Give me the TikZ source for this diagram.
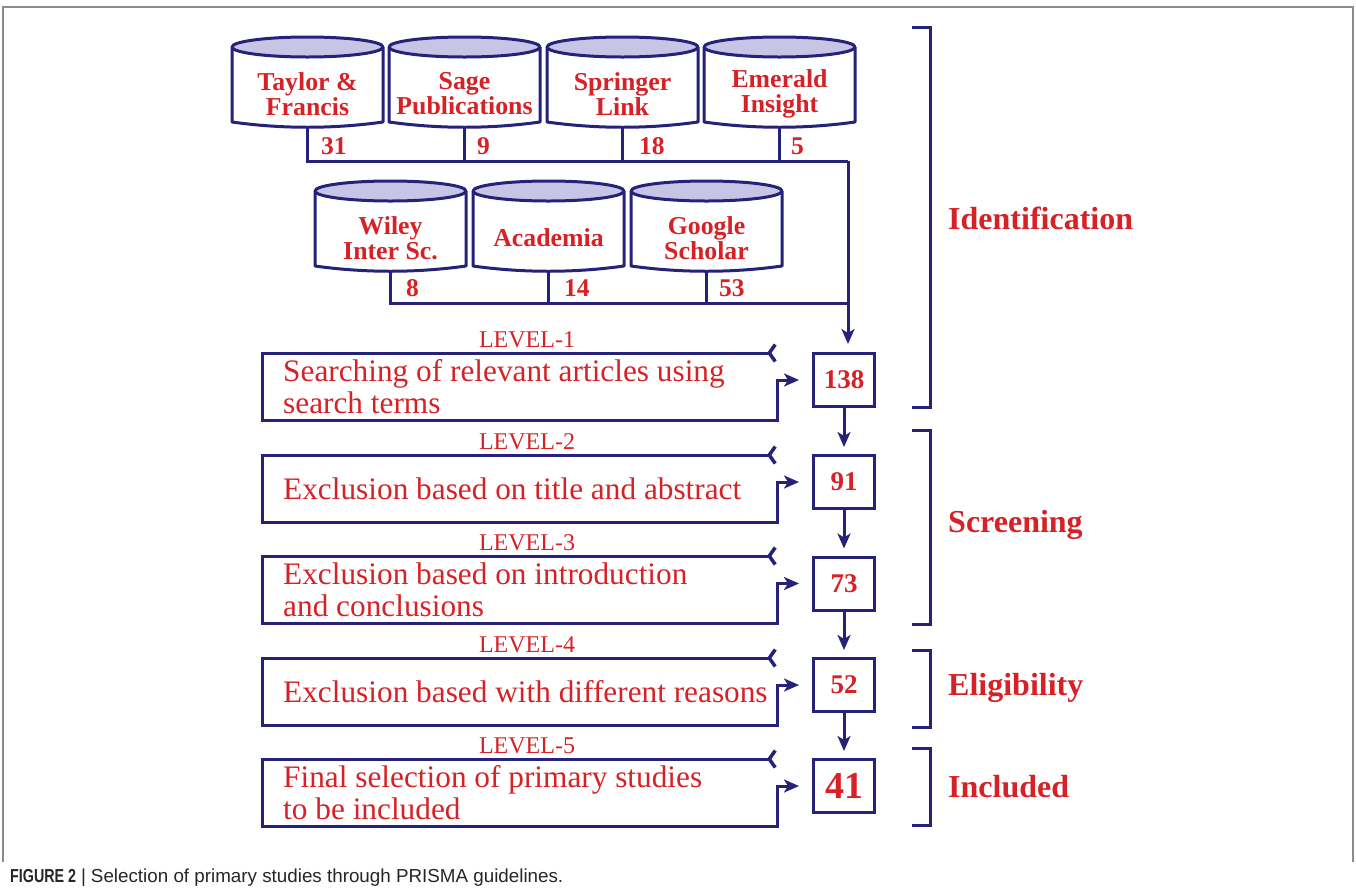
\documentclass[tikz,border=0pt]{standalone}
\usepackage{fontspec}
\setmainfont{Liberation Serif}
\newfontfamily\capfont{Liberation Sans}
\newfontfamily\capfontnarrow[FakeStretch=0.76]{Liberation Sans}
\usetikzlibrary{arrows.meta,calc}
\definecolor{navy}{RGB}{38,34,122}
\definecolor{lav}{RGB}{200,196,230}
\definecolor{tred}{RGB}{214,34,38}
\definecolor{framegray}{RGB}{140,140,140}
\newcommand\dbcyl[4]{% name, left x, ellipse centre y, text
  \draw[cylline] (#2,#3) -- (#2,#3+75) .. controls (#2+50,#3+82) and (#2+101,#3+82) .. (#2+151,#3+75) -- (#2+151,#3);
  \draw[cylline, fill=lav] (#2+75.5,#3) ellipse [x radius=75.5, y radius=10];
  \node[dbtext] (#1) at (#2+75.5,#3+47) {#4};
  \coordinate (#1b) at (#2+75.5,#3+80);
}
\newcommand\levelrow[5]{% idx, top y, bottom y, number box, text
  \node[lvl] (lv#1) at (527,#2-13) {LEVEL-#1};
  \node[lvltext] (tx#1) at (283,{(#2+#3)/2}) {#5};
  \coordinate (s#1) at (777,#2);
  \draw[lvpath] (s#1) -- (262,#2) -- (262,#3) -- (777,#3) |- ($(#4.west)+(-13,0)$);
}
\begin{document}
\begin{tikzpicture}[x=1pt,y=-1pt,
  cylline/.style={draw=navy, line width=3pt, line join=round},
  dbtext/.style={text=tred, font=\fontsize{25.8}{25}\selectfont\bfseries, align=center, inner sep=0},
  cnt/.style={text=tred, font=\fontsize{25.5}{25}\selectfont\bfseries, anchor=west, inner sep=0},
  conn/.style={draw=navy, line width=3pt},
  arr/.style={conn, -{Stealth[length=15pt,width=13pt,inset=4pt]}},
  lvpath/.style={conn, line join=miter, {Straight Barb[reversed,length=6pt,width=17pt,line width=3.5pt]}-{Stealth[length=15pt,width=13pt,inset=4pt]}},
  numbox/.style={draw=navy, line width=3pt, minimum width=61pt, minimum height=53pt, inner sep=0, text=tred, font=\fontsize{27}{27}\selectfont\bfseries},
  lvl/.style={text=tred, font=\fontsize{24}{24}\selectfont, inner sep=0},
  lvltext/.style={text=tred, font=\fontsize{31.3}{32}\selectfont, align=left, anchor=west, inner sep=0},
  phase/.style={text=tred, font=\fontsize{32}{32}\selectfont\bfseries, anchor=west, inner sep=0},
  bracket/.style={draw=navy, line width=3pt},
]
\useasboundingbox (0,0) rectangle (1356,895);
\fill[white] (0,0) rectangle (1356,895);
% frame
\draw[framegray, line width=1.2pt] (3,862) -- (3,7) -- (1353,7) -- (1353,862);

% row 1 databases
\dbcyl{tf}{232}{47}{Taylor \&\\Francis}
\dbcyl{sg}{389}{47}{Sage\\Publications}
\dbcyl{sp}{547}{47}{Springer\\Link}
\dbcyl{em}{704}{47}{Emerald\\Insight}
% row 2 databases
\dbcyl{wy}{315}{191}{Wiley\\Inter Sc.}
\dbcyl{ac}{473}{191}{Academia}
\dbcyl{gs}{631}{191}{Google\\Scholar}

% number boxes
\node[numbox] (n138) at (844,380) {138};
\node[numbox] (n91) at (844,482) {91};
\node[numbox] (n73) at (844,583.5) {73};
\node[numbox] (n52) at (844,685) {52};
\node[numbox, font=\fontsize{38}{38}\selectfont\bfseries] (n41) at (844,786) {41};

% collection lines
\coordinate (j1) at (848,161);
\coordinate (j2) at (848,303);
\draw[conn] (tfb) |- (j1);
\draw[conn] (sgb) -- (sgb |- j1);
\draw[conn] (spb) -- (spb |- j1);
\draw[conn] (emb) -- (emb |- j1);
\draw[conn] (wyb) |- (j2);
\draw[conn] (acb) -- (acb |- j2);
\draw[conn] (gsb) -- (gsb |- j2);
\draw[arr, shorten >=8pt] (j1) -- (j1 |- n138.north);

% counts
\node[cnt] (c31) at (321,146) {31};
\node[cnt] (c9) at (477,146) {9};
\node[cnt] (c18) at (639,146) {18};
\node[cnt] (c5) at (791,146) {5};
\node[cnt] (c8) at (406,288) {8};
\node[cnt] (c14) at (564,288) {14};
\node[cnt] (c53) at (719,288) {53};

% vertical arrows between number boxes
\draw[arr, shorten >=7pt] (n138) -- (n91);
\draw[arr, shorten >=7pt] (n91) -- (n73);
\draw[arr, shorten >=7pt] (n73) -- (n52);
\draw[arr, shorten >=7pt] (n52) -- (n41);

% level rows
\levelrow{1}{353}{420}{n138}{Searching of relevant articles using\\search terms}
\levelrow{2}{455}{522}{n91}{Exclusion based on title and abstract}
\levelrow{3}{556}{623}{n73}{Exclusion based on introduction\\and conclusions}
\levelrow{4}{658}{725}{n52}{Exclusion based with different reasons}
\levelrow{5}{759}{826}{n41}{Final selection of primary studies\\to be included}

% phase brackets
\draw[bracket] (912,27) -- (930,27) -- (930,407) -- (912,407);
\draw[bracket] (912,430) -- (930,430) -- (930,624) -- (912,624);
\draw[bracket] (912,650) -- (930,650) -- (930,727) -- (912,727);
\draw[bracket] (912,748) -- (930,748) -- (930,825) -- (912,825);
\node[phase] (pid) at (948,218) {Identification};
\node[phase] (psc) at (948,525) {Screening};
\node[phase] (pel) at (948,688) {Eligibility};
\node[phase] (pin) at (948,787) {Included};

% caption
\node[anchor=west, inner sep=0, text=black!85, font=\fontsize{18.8}{19}\selectfont] (cap) at (10,878) {{\capfontnarrow\bfseries FIGURE 2}\hspace{5pt}{\capfont|}\hspace{5pt}{\capfont Selection of primary studies through PRISMA guidelines.}};
\end{tikzpicture}
\end{document}
